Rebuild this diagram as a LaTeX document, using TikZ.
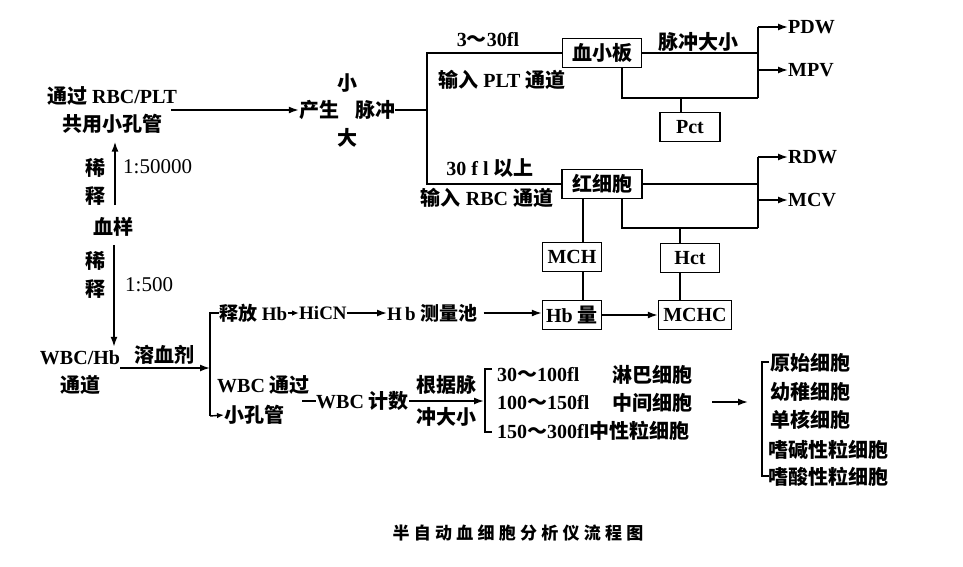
\documentclass[tikz,border=0pt]{standalone}
\usepackage{fontspec}
\setmainfont{Liberation Serif}
\newfontfamily\cjk{Noto Sans CJK SC}
\newfontfamily\cjkt{Noto Sans CJK SC}[LetterSpace=25]
\usetikzlibrary{arrows.meta}
\newcommand\zh[1]{{\cjk\bfseries #1}}
\tikzset{
  lbl/.style={inner sep=0pt, font=\fontsize{20}{28}\selectfont\bfseries},
  sml/.style={inner sep=0pt, font=\fontsize{19}{22}\selectfont\bfseries},
  ratio/.style={inner sep=0pt, anchor=west, font=\fontsize{21}{24}\selectfont},
  bx/.style={draw, line width=1.4pt, inner sep=0pt, minimum height=29pt, font=\fontsize{20}{24}\selectfont\bfseries},
  ln/.style={line width=1.6pt},
  ar/.style={line width=1.6pt, -{Latex[length=10pt,width=7pt]}},
  sar/.style={line width=1.4pt, -{Latex[length=7pt,width=5.5pt]}},
}
\begin{document}
\begin{tikzpicture}[x=1pt,y=-1pt]
\useasboundingbox (0,0) rectangle (963,566);

% ---- source and pulses
\node[lbl, align=center] (src) at (112,110) {\zh{通过} RBC/PLT\\\zh{共用小孔管}};
\node[lbl] (pulse) at (347,110) {\zh{产生\hspace{0.8em}脉冲}};
\node[lbl] (small) at (347,83) {\zh{小}};
\node[lbl] (big) at (347,138) {\zh{大}};
\draw[ar, shorten <=-6pt] (src.east) -- (pulse.west);
\coordinate (sp) at (427,110);
\coordinate (spT) at (427,53);
\coordinate (spB) at (427,184);
\draw[ln] (pulse.east) -- (sp);

% ---- PLT branch
\node[bx, minimum width=79pt] (plt) at (602,53) {\zh{血小板}};
\node[bx, minimum width=80pt] (rbc) at (602,184) {\zh{红细胞}};
\draw[ln] (plt.west) -- (spT) -- (spB) -- (rbc.west);
\node[lbl] (l330) at (488,40) {3\zh{～}30fl};
\node[lbl] (lplt) at (502,80) {\zh{输入} PLT \zh{通道}};
\node[lbl] (l30) at (490,168) {30 f l \zh{以上}};
\node[lbl] (lrbc) at (487,198) {\zh{输入} RBC \zh{通道}};

\coordinate (pT) at (758,27);
\coordinate (pM) at (758,70);
\coordinate (pJ) at (758,53);
\coordinate (pB) at (758,98);
\draw[ln] (plt.east) -- (pJ);
\draw[ln] (pT) -- (pB);
\node[lbl, anchor=west] (pdw) at (788,27) {PDW};
\node[lbl, anchor=west] (mpv) at (788,70) {MPV};
\draw[ar] (pT) -- (pdw.west);
\draw[ar] (pM) -- (mpv.west);
\node[lbl] (lps) at (698,42) {\zh{脉冲大小}};
\coordinate (pd1) at (622,98);
\draw[ln] (plt.south -| pd1) -- (pd1) -- (pB);
\node[bx, minimum width=60pt] (pct) at (690,127) {Pct};
\coordinate (pc) at (681,98);
\draw[ln] (pc) -- (pct.north -| pc);

% ---- RBC branch
\coordinate (rT) at (758,157);
\coordinate (rM) at (758,200);
\coordinate (rJ) at (758,184);
\coordinate (rB) at (758,228);
\draw[ln] (rbc.east) -- (rJ);
\draw[ln] (rT) -- (rB);
\node[lbl, anchor=west] (rdw) at (788,157) {RDW};
\node[lbl, anchor=west] (mcv) at (788,200) {MCV};
\draw[ar] (rT) -- (rdw.west);
\draw[ar] (rM) -- (mcv.west);
\coordinate (rd1) at (622,228);
\draw[ln] (rbc.south -| rd1) -- (rd1) -- (rB);
\node[bx, minimum width=59pt] (hct) at (690,258) {Hct};
\node[bx, minimum width=73pt] (mchc) at (695,315) {MCHC};
\coordinate (hc) at (680,228);
\draw[ln] (hc) -- (hct.north -| hc);
\draw[ln] (hct.south -| hc) -- (mchc.north -| hc);
\node[bx, minimum width=59pt] (mch) at (572,257) {MCH};
\node[bx, minimum width=59pt] (hb) at (572,315) {Hb \zh{量}};
\coordinate (mc) at (583,257);
\draw[ln] (rbc.south -| mc) -- (mch.north -| mc);
\draw[ln] (mch.south -| mc) -- (hb.north -| mc);
\draw[ar] (hb.east) -- (mchc.west);

% ---- dilution column
\node[lbl] (smp) at (113,227) {\zh{血样}};
\coordinate (ax) at (115,0);
\coordinate (ax2) at (114,0);
\draw[ar, shorten <=12pt, shorten >=8pt] (smp.north -| ax) -- (src.south -| ax);
\node[lbl, align=center] (d1) at (95,182) {\zh{稀}\\\zh{释}};
\node[ratio] (r1) at (123,167) {1:50000};
\node[lbl, align=center] (d2) at (95,275) {\zh{稀}\\\zh{释}};
\node[ratio] (r2) at (125,285) {1:500};
\node[lbl, align=center] (wbc) at (80,373) {WBC/Hb\\\zh{通道}};
\draw[ar, shorten <=8pt, shorten >=4pt] (smp.south -| ax2) -- (wbc.north -| ax2);

% ---- lysis
\coordinate (b1) at (210,368);
\coordinate (b1t) at (210,313);
\coordinate (b1b) at (210,416);
\node[lbl] (lys) at (164,355) {\zh{溶血剂}};
\draw[ar] (wbc.east |- b1) -- (b1);
\node[sml, anchor=west] (rel) at (219,313) {\zh{释放} Hb};
\node[sml, anchor=west] (hicn) at (299,313) {HiCN};
\node[sml, anchor=west] (pool) at (387,313) {H\,b \zh{测量池}};
\draw[sar] (rel) -- (hicn);
\draw[ar] (hicn) -- (pool);
\draw[ar, shorten <=6pt] (pool.east) -- (pool.east -| hb.west);
\node[lbl, anchor=west] (wpass) at (217,385) {WBC \zh{通过}};
\node[lbl, anchor=west] (hole) at (224,415) {\zh{小孔管}};
\draw[ln] (rel.west) -- (b1t) -- (b1b);
\draw[sar] (b1b) -- (hole.west);

% ---- WBC count
\node[lbl, anchor=west] (cnt) at (316,401) {WBC \zh{计数}};
\coordinate (dsh) at (302,401);
\draw[ln] (dsh) -- (cnt.west);
\coordinate (b2) at (484,401);
\draw[ar] (cnt.east) -- (b2);
\node[lbl] (lk1) at (446,385) {\zh{根据脉}};
\node[lbl] (lk2) at (446,417) {\zh{冲大小}};
\coordinate (b2t) at (485,369);
\coordinate (b2b) at (485,432);
\coordinate (b2tr) at (492,369);
\coordinate (b2br) at (492,432);
\draw[ln] (b2tr) -- (b2t) -- (b2b) -- (b2br);
\node[lbl, anchor=west] (w1a) at (497,375) {30\zh{～}100fl};
\node[lbl, anchor=west] (w1b) at (612,375) {\zh{淋巴细胞}};
\node[lbl, anchor=west] (w2a) at (497,403) {100\zh{～}150fl};
\node[lbl, anchor=west] (w2b) at (612,403) {\zh{中间细胞}};
\node[lbl, anchor=west] (w3) at (497,431) {150\zh{～}300fl\zh{中性粒细胞}};
\coordinate (a0) at (712,402);
\coordinate (a1) at (748,402);
\draw[ar] (a0) -- (a1);

% ---- cell list
\coordinate (b3t) at (762,362);
\coordinate (b3b) at (762,476);
\coordinate (b3tr) at (769,362);
\coordinate (b3br) at (769,476);
\draw[ln] (b3tr) -- (b3t) -- (b3b) -- (b3br);
\node[lbl, anchor=west] (c1) at (770,363) {\zh{原始细胞}};
\node[lbl, anchor=west] (c2) at (770,392) {\zh{幼稚细胞}};
\node[lbl, anchor=west] (c3) at (770,420) {\zh{单核细胞}};
\node[lbl, anchor=west] (c4) at (768,450) {\zh{嗜碱性粒细胞}};
\node[lbl, anchor=west] (c5) at (768,477) {\zh{嗜酸性粒细胞}};

% ---- caption
\node[inner sep=0pt, font=\cjkt\bfseries\fontsize{17}{20}\selectfont] (cap) at (518,533) {半自动血细胞分析仪流程图};
\end{tikzpicture}
\end{document}
